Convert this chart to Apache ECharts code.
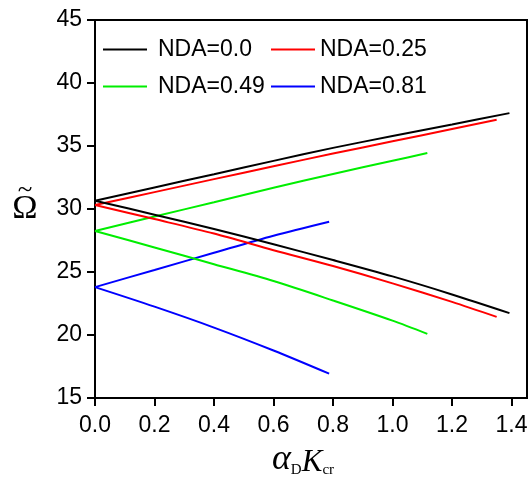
<!DOCTYPE html>
<html>
<head>
<meta charset="utf-8">
<script src="https://cdn.jsdelivr.net/npm/echarts@6/dist/echarts.min.js"></script>
<style>
  html, body { margin: 0; padding: 0; background: #fff; }
  #chart { width: 532px; height: 479px; }
</style>
</head>
<body>
<div id="chart"></div>
<script>
// values
const xTicks = [0, 0.2, 0.4, 0.6, 0.8, 1.0, 1.2, 1.4];

const xNDA00 = [0, 0.2, 0.4, 0.6, 0.8, 1.0, 1.2, 1.393];
const upNDA00 = [30.66, 31.71, 32.76, 33.82, 34.85, 35.79, 36.71, 37.61];
const lowNDA00 = [30.66, 29.55, 28.42, 27.20, 25.95, 24.65, 23.22, 21.74];

const xNDA025 = [0, 0.2, 0.4, 0.6, 0.8, 1.0, 1.2, 1.35];
const upNDA025 = [30.32, 31.34, 32.37, 33.39, 34.40, 35.37, 36.35, 37.08];
const lowNDA025 = [30.32, 29.20, 28.05, 26.73, 25.47, 24.10, 22.63, 21.44];

const xNDA049 = [0, 0.2, 0.4, 0.6, 0.8, 1.0, 1.117];
const upNDA049 = [28.26, 29.40, 30.54, 31.68, 32.78, 33.83, 34.44];
const lowNDA049 = [28.26, 26.95, 25.62, 24.28, 22.74, 21.14, 20.09];

const xNDA081 = [0, 0.2, 0.4, 0.6, 0.787];
const upNDA081 = [23.80, 25.16, 26.53, 27.88, 28.99];
const lowNDA081 = [23.80, 22.25, 20.59, 18.77, 16.93];

const names = ['NDA=0.0', 'NDA=0.25', 'NDA=0.49', 'NDA=0.81'];
const colors = ['#000000', '#ff0000', '#00ee00', '#0000ff'];

function pairs(xs, ys) {
  return xs.map((x, i) => [x, ys[i]]);
}

const curves = [
  [xNDA00, upNDA00, lowNDA00],
  [xNDA025, upNDA025, lowNDA025],
  [xNDA049, upNDA049, lowNDA049],
  [xNDA081, upNDA081, lowNDA081]
];

let series = [];
curves.forEach((c, i) => {
  [c[1], c[2]].forEach(ys => {
    series.push({
      name: names[i],
      type: 'line',
      data: pairs(c[0], ys),
      showSymbol: false,
      smooth: 0.3,
      lineStyle: { color: colors[i], width: 2 },
      itemStyle: { color: colors[i] },
      z: 10 - i
    });
  });
});

const font = 'Liberation Sans, Arial, sans-serif';
const serif = 'Liberation Serif, Times New Roman, serif';
const legendText = { fontFamily: font, fontSize: 23, color: '#000', lineHeight: 22 };

var chart = echarts.init(document.getElementById('chart'));
var option = {
  animation: false,
  backgroundColor: '#fff',
  grid: {
    left: 95, right: 5, top: 20, bottom: 81,
    containLabel: false,
    outerBoundsMode: 'none',
    show: true, borderColor: '#000', borderWidth: 2
  },
  legend: [
    {
      data: [names[0], names[2]],
      orient: 'vertical',
      left: 103, top: 38, padding: 0,
      icon: 'rect',
      itemWidth: 44, itemHeight: 2, itemGap: 14,
      textStyle: Object.assign({ padding: [0, 0, 0, 6] }, legendText)
    },
    {
      data: [names[1], names[3]],
      orient: 'vertical',
      left: 271, top: 38, padding: 0,
      icon: 'rect',
      itemWidth: 44, itemHeight: 2, itemGap: 14,
      textStyle: legendText
    }
  ],
  xAxis: {
    type: 'value',
    min: 0, max: 1.452,
    interval: 0.2,
    name: '{a|α}{s|D}{k|K}{s|cr}',
    nameLocation: 'middle',
    nameGap: 31,
    nameTextStyle: {
      padding: [0, 16, 0, 0],
      rich: {
        a: { fontFamily: serif, fontStyle: 'italic', fontSize: 36, color: '#000', verticalAlign: 'bottom', lineHeight: 32 },
        k: { fontFamily: serif, fontStyle: 'italic', fontSize: 31, color: '#000', verticalAlign: 'bottom', lineHeight: 30 },
        s: { fontFamily: serif, fontSize: 15, color: '#000', verticalAlign: 'bottom', lineHeight: 17 }
      }
    },
    axisLine: { lineStyle: { color: '#000', width: 2 } },
    axisTick: { show: true, inside: false, length: 8, lineStyle: { width: 2 }, customValues: xTicks },
    axisLabel: {
      customValues: xTicks,
      fontFamily: font, fontSize: 23, color: '#000', margin: 16,
      formatter: v => v.toFixed(1)
    },
    splitLine: { show: false }
  },
  yAxis: {
    type: 'value',
    min: 15, max: 45, interval: 5,
    name: '{t|~}\n{o|Ω}',
    nameLocation: 'middle',
    nameRotate: 0,
    nameGap: 70,
    nameTextStyle: {
      align: 'center',
      padding: [0, 0, 6, 0],
      rich: {
        t: { fontFamily: serif, fontSize: 27, color: '#000', lineHeight: 6, align: 'center' },
        o: { fontFamily: serif, fontSize: 34, color: '#000', lineHeight: 30, align: 'center' }
      }
    },
    axisLine: { lineStyle: { color: '#000', width: 2 } },
    axisTick: { show: true, inside: false, length: 8, lineStyle: { width: 2 } },
    axisLabel: { fontFamily: font, fontSize: 23, color: '#000', margin: 13 },
    splitLine: { show: false }
  },
  series: series
};
chart.setOption(option);
</script>
</body>
</html>
